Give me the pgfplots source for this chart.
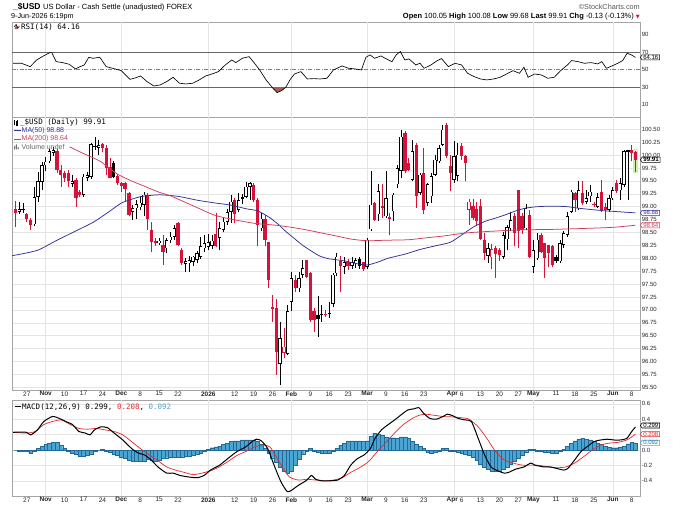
\documentclass[border=0pt]{standalone}
\usepackage{fontspec}
\setmainfont{Liberation Sans}
\newfontfamily\dmono{DejaVu Sans Mono}
\newfontfamily\dejavu{DejaVu Sans}
\usepackage{pgfplots}
\pgfplotsset{compat=1.18}
\usepackage{pgfplotstable}
\usetikzlibrary{shapes.symbols}
\newcommand{\fs}[1]{\fontsize{#1}{#1}\selectfont}

\definecolor{cRed}{RGB}{214,18,58}
\definecolor{cMAa}{RGB}{50,50,150}
\definecolor{cMAb}{RGB}{210,60,90}
\definecolor{cGrid}{RGB}{228,228,228}
\definecolor{cFrame}{RGB}{165,165,165}
\definecolor{cHist}{RGB}{75,165,210}
\definecolor{cHistE}{RGB}{35,105,150}
\definecolor{cSig}{RGB}{230,40,40}
\definecolor{cRSIfill}{RGB}{165,95,95}
\definecolor{cHi}{RGB}{205,240,175}

\pgfplotstableread{
i o h l c r
-3 98.96 99.11 98.61 98.87 1
-2 98.90 99.10 98.86 98.95 0
-1 98.94 99.07 98.87 98.95 0
0 98.85 98.88 98.70 98.76 1
1 98.75 98.78 98.55 98.64 1
2 98.66 99.39 98.62 99.19 0
3 99.19 99.68 99.10 99.49 0
4 99.48 99.87 99.32 99.81 0
5 99.80 99.97 99.70 99.87 0
6 99.88 100.12 99.85 100.07 0
7 100.04 100.16 99.98 100.10 0
8 100.08 100.12 99.66 99.71 1
9 99.71 99.81 99.39 99.61 1
10 99.65 99.70 99.47 99.55 1
11 99.65 99.71 99.39 99.49 1
12 99.44 99.61 99.38 99.50 0
13 99.52 99.55 99.00 99.16 1
14 99.29 99.32 99.18 99.23 1
15 99.23 99.63 99.19 99.58 0
16 99.56 99.68 99.50 99.61 0
17 99.58 100.23 99.54 100.21 0
18 100.17 100.36 100.09 100.16 0
19 100.14 100.29 100.00 100.19 0
20 100.21 100.24 100.05 100.13 1
21 100.13 100.20 99.61 99.74 1
22 99.76 99.94 99.55 99.56 1
23 99.84 99.88 99.55 99.58 0
24 99.60 99.63 99.42 99.45 1
25 99.46 99.48 99.29 99.41 1
26 99.45 99.48 99.10 99.34 1
27 99.26 99.29 98.81 98.84 1
28 98.90 99.03 98.74 98.97 0
29 98.97 99.13 98.77 99.05 0
30 98.99 99.21 98.93 99.08 0
31 99.04 99.29 98.81 99.23 0
32 99.23 99.26 98.55 98.77 1
33 98.54 98.71 98.13 98.32 1
34 98.34 98.39 98.23 98.29 1
35 98.29 98.40 98.26 98.34 0
36 98.26 98.45 97.87 98.13 1
37 98.19 98.40 98.10 98.35 0
38 98.35 98.50 98.30 98.42 0
39 98.42 98.65 98.35 98.58 0
40 98.68 98.71 98.23 98.26 1
41 98.16 98.20 97.87 97.90 1
42 97.89 98.00 97.74 97.95 0
43 97.90 98.05 97.74 97.96 0
44 97.93 98.04 97.85 98.03 0
45 97.97 98.15 97.90 98.10 0
46 98.03 98.42 97.99 98.23 0
47 98.19 98.45 98.13 98.29 0
48 98.22 98.48 98.16 98.31 0
49 98.24 98.45 98.18 98.34 0
50 98.48 98.87 98.21 98.23 1
51 98.39 98.71 98.16 98.58 0
52 98.55 98.78 98.50 98.71 0
53 98.71 98.95 98.65 98.90 0
54 98.90 99.23 98.68 99.10 0
55 99.12 99.16 98.68 98.86 1
56 98.94 99.26 98.90 99.13 0
57 99.19 99.25 99.05 99.14 0
58 99.19 99.48 99.16 99.39 0
59 99.39 99.48 99.13 99.45 0
60 99.42 99.45 99.10 99.13 1
61 99.13 99.16 98.23 98.65 1
62 98.58 98.87 98.52 98.77 0
63 98.77 98.84 98.23 98.36 1
64 98.32 98.32 97.42 97.58 1
65 97.05 97.29 96.77 97.02 1
66 97.03 97.22 95.74 96.19 1
67 95.96 96.77 95.55 96.45 0
68 96.17 96.64 96.06 96.29 1
69 96.15 97.10 96.12 96.97 0
70 97.16 97.74 96.97 97.61 0
71 97.58 97.68 97.35 97.42 1
72 97.42 97.74 97.35 97.61 0
73 97.68 97.97 97.61 97.81 0
74 97.97 97.97 97.61 97.64 1
75 97.71 97.74 96.77 96.80 1
76 96.97 97.03 96.58 96.80 1
77 96.90 97.26 96.48 96.82 0
78 96.90 97.10 96.77 96.93 0
79 96.93 96.99 96.86 96.90 1
80 96.92 97.16 96.84 96.93 0
81 97.12 97.71 97.05 97.68 0
82 97.71 98.10 97.65 98.03 0
83 97.95 98.05 97.35 97.85 1
84 97.84 98.02 97.70 97.93 0
85 97.93 97.98 97.78 97.86 1
86 97.86 98.02 97.80 97.92 0
87 97.90 98.00 97.82 97.96 0
88 97.99 98.02 97.80 97.86 0
89 97.92 97.93 97.76 97.80 1
90 97.84 98.40 97.80 98.36 0
91 98.56 99.69 98.52 99.04 0
92 99.07 99.10 98.72 98.75 1
93 98.85 99.43 98.72 99.30 0
94 99.01 99.43 98.78 98.98 1
95 98.81 99.69 98.78 99.17 0
96 98.77 98.88 98.46 98.80 1
97 98.91 99.27 98.72 99.23 0
98 99.43 99.81 99.36 99.75 0
99 99.69 100.49 99.56 100.36 0
100 100.43 100.46 99.65 99.69 1
101 99.85 99.95 99.70 99.72 1
102 99.52 100.30 99.49 100.07 0
103 100.20 100.23 98.98 99.20 1
104 99.27 99.65 99.23 99.62 0
105 99.65 100.14 98.85 98.94 1
106 99.07 99.46 99.01 99.43 0
107 99.20 99.65 99.07 99.59 0
108 99.62 100.01 99.59 99.91 0
109 99.88 100.20 99.85 100.14 0
110 100.20 100.59 100.17 100.49 0
111 100.59 100.62 99.94 99.98 1
112 99.78 100.01 99.30 99.65 1
113 99.52 100.27 99.46 99.98 0
114 99.60 100.23 99.49 100.01 0
115 100.17 100.23 99.91 99.98 1
116 99.98 100.01 99.49 99.85 1
117 98.94 99.15 98.64 99.10 1
118 99.01 99.15 98.74 98.78 1
119 98.95 99.10 98.62 98.72 1
120 99.01 99.14 98.35 98.38 1
121 98.36 98.49 97.96 98.10 1
122 98.05 98.30 97.90 98.20 0
123 98.02 98.28 97.80 98.18 1
124 98.19 98.23 97.61 98.08 1
125 98.16 98.20 97.95 98.06 1
126 98.03 98.50 97.98 98.45 0
127 98.37 98.65 98.16 98.60 0
128 98.58 98.90 98.52 98.74 0
129 98.82 98.87 98.23 98.49 1
130 99.32 99.32 98.19 98.52 1
131 98.81 98.88 98.48 98.55 1
132 98.58 99.06 98.55 98.97 0
133 98.84 98.94 98.00 98.03 1
134 97.84 98.35 97.71 98.16 0
135 98.00 98.49 97.97 98.36 0
136 98.45 98.49 98.10 98.13 1
137 98.29 98.29 97.61 98.00 1
138 98.26 98.26 97.84 98.10 1
139 98.23 98.26 97.84 97.87 1
140 98.03 98.06 97.90 97.94 0
141 97.94 98.36 97.90 98.29 0
142 98.26 98.52 98.20 98.49 0
143 98.45 98.90 98.42 98.81 0
144 98.90 99.32 98.87 99.29 0
145 99.26 99.29 98.90 99.13 1
146 98.97 99.49 98.94 99.32 0
147 99.26 99.49 99.03 99.07 1
148 99.10 99.32 99.05 99.16 0
149 99.20 99.42 99.10 99.29 0
150 99.05 99.10 99.00 99.03 1
151 99.00 99.26 98.97 99.19 0
152 99.29 99.52 98.90 98.94 1
153 99.00 99.07 98.75 98.94 1
154 98.94 99.23 98.90 99.16 0
155 99.16 99.39 99.13 99.32 0
156 99.45 99.52 99.26 99.30 1
157 99.32 99.55 99.13 99.45 0
158 99.42 100.10 99.38 100.07 0
159 100.09 100.10 99.13 100.06 0
160 100.10 100.20 99.88 100.04 1
161 100.05 100.08 99.68 99.91 1
}\tabC

\pgfplotstableread{
i v
-3.6 57.4
-1.4 57.4
0.9 53.6
2.6 61.2
4.4 65.8
6.1 69.6
6.6 69.6
7.8 59.3
9.5 58.2
11.2 56.3
12.9 50.9
14.1 53.6
15.2 55.5
16.4 64.3
17.5 63.1
19.3 64.3
21 53.6
22.7 51.7
25 49.0
27.3 39.1
28.4 40.3
30.1 42.9
31.8 36.5
33.6 31.5
35.3 32.7
37 36.5
38.7 41.4
40.4 34.6
42.1 33.8
43.9 34.6
45.6 38.4
47.3 42.9
49 45.2
50.7 47.9
52.5 55.5
54.2 61.2
55.3 58.2
57 63.1
58.8 65.0
59.9 59.3
61.6 49.8
63.3 38.4
65.1 28.9
66.2 23.9
67.4 26.2
68.5 30.0
69.6 38.4
70.8 45.2
72.5 47.9
74.2 39.5
75.9 39.9
77.6 39.5
79.4 40.3
81.1 49.8
83.4 54.4
85.1 51.7
86.8 51.0
88.5 49.8
89.7 64.3
90.8 67.0
92 63.1
93.7 65.8
94.8 63.1
96.6 59.3
97.7 67.0
98.8 70.8
100 61.2
101.1 62.4
102.9 55.5
104 57.4
105.1 51.7
106.9 55.5
108.6 60.5
109.7 62.8
111.5 53.6
113.3 57.4
115 55.5
116.6 46.0
118.3 42.2
120 39.5
121.7 38.4
123.5 39.5
125.2 41.4
126.9 45.2
128.6 49.0
130.3 46.0
131.5 52.9
132.6 41.4
134.3 45.2
136.1 44.1
137.8 40.3
139.5 41.4
141.2 49.0
143 55.5
144.1 60.5
145.8 59.3
147.5 57.4
149.2 58.2
151 56.7
152.1 59.3
153.3 51.7
154.8 54.4
156.3 57.4
157.6 60.5
158.8 68.9
159.9 67.0
161 64.16
}\tabR

\pgfplotstableread{
i v
-3.9 98.05
-1 98.09
3 98.16
8 98.35
12.7 98.52
17.6 98.70
21.5 98.89
25 99.07
28 99.15
30.5 99.20
35 99.23
40 99.20
45.5 99.12
50 99.07
54 99.03
58 98.96
61 98.92
64 98.80
66.5 98.66
68.5 98.52
71 98.37
73 98.25
75.5 98.13
77.6 98.04
80 97.99
84 97.95
87 97.90
90 97.87
93 97.93
95.5 98.00
100 98.08
104 98.17
108 98.24
112 98.31
115 98.45
118 98.60
121 98.71
124 98.78
126.5 98.84
129 98.91
131.8 98.97
135 99.00
139 99.01
143 99.00
146 98.97
150 98.94
153 98.92
157 98.90
161 98.88
}\tabMa

\pgfplotstableread{
i v
11.3 100.16
15 100.03
19.4 99.88
24 99.63
28 99.49
31 99.40
35 99.28
38 99.21
43 99.05
49.5 98.84
54 98.76
60 98.68
66 98.64
70 98.60
74 98.55
78 98.49
82 98.43
86 98.37
90 98.34
95 98.35
101 98.36
106 98.40
110 98.43
116 98.49
122 98.52
130 98.55
139 98.56
148 98.58
155 98.60
161 98.64
}\tabMb

\pgfplotstableread{
i v
-3.6 0.23
-0.1 0.23
1.0 0.196
2.8 0.26
4.5 0.37
6.8 0.435
8.6 0.41
10.3 0.37
12.1 0.33
13.8 0.24
15.5 0.22
16.7 0.196
17.9 0.26
19.6 0.30
21.3 0.29
23.1 0.22
25.4 0.13
27.7 0.02
29.5 -0.04
31.2 -0.065
32.9 -0.13
34.7 -0.22
37.0 -0.30
38.7 -0.30
40.5 -0.33
42.8 -0.35
45.1 -0.36
46.9 -0.33
48.6 -0.26
50.9 -0.20
53.2 -0.11
55.6 -0.02
57.9 0.04
59.6 0.11
60.8 0.14
62.0 0.12
63.7 0.02
65.4 -0.196
67.2 -0.41
68.9 -0.54
70.1 -0.52
71.8 -0.46
74.1 -0.39
75.3 -0.33
76.4 -0.38
78.2 -0.40
79.9 -0.40
82.2 -0.39
84.0 -0.33
85.7 -0.196
87.5 -0.11
89.2 -0.065
90.9 0.02
92.1 0.15
93.8 0.26
95.6 0.33
97.3 0.39
99.1 0.46
100.8 0.52
102.5 0.535
103.7 0.55
104.9 0.48
106.6 0.41
108.3 0.40
110.1 0.435
111.2 0.465
112.4 0.45
114.1 0.41
115.9 0.39
117.6 0.37
119.4 0.15
121.1 -0.065
122.8 -0.22
124.6 -0.27
126.3 -0.30
127.5 -0.29
129.2 -0.25
131.5 -0.22
133.3 -0.17
134.4 -0.196
136.8 -0.22
138.5 -0.22
140.2 -0.24
142.0 -0.26
143.1 -0.24
144.9 -0.13
146.6 -0.02
148.4 0.05
150.1 0.11
151.8 0.13
153.6 0.14
155.3 0.13
157.0 0.13
158.7 0.15
160 0.24
161 0.299
}\tabM

\pgfplotstableread{
i v
-3.6 0.23
-0.1 0.22
2.2 0.24
4.5 0.33
6.8 0.37
9.2 0.39
11.5 0.33
13.8 0.28
16.1 0.27
18.4 0.28
20.8 0.26
23.1 0.24
25.4 0.196
27.7 0.11
30.0 0.02
32.4 -0.065
34.7 -0.14
37.0 -0.22
39.3 -0.26
41.6 -0.29
44.0 -0.32
46.3 -0.30
48.6 -0.27
50.9 -0.22
53.2 -0.15
55.6 -0.07
57.9 -0.02
60.2 0.04
62.5 0.065
64.3 0.04
66.0 -0.09
67.8 -0.24
69.5 -0.35
71.8 -0.39
74.1 -0.38
76.4 -0.39
78.8 -0.40
81.1 -0.39
83.4 -0.36
85.7 -0.29
88.0 -0.23
90.4 -0.15
92.7 -0.02
95.0 0.10
97.3 0.22
99.6 0.33
102.0 0.41
103.7 0.45
105.5 0.465
107.8 0.45
110.1 0.435
112.4 0.43
114.7 0.42
117.0 0.40
119.4 0.30
121.7 0.15
124.0 -0.02
126.3 -0.13
128.7 -0.17
131.0 -0.196
133.3 -0.196
135.6 -0.20
137.9 -0.22
140.2 -0.23
142.6 -0.22
144.9 -0.17
147.2 -0.09
149.6 0.0
151.8 0.065
154.2 0.09
156.5 0.10
158.7 0.13
160 0.17
161 0.208
}\tabS

\pgfplotstableread{
i h
-3 0.00
-2 -0.01
-1 -0.01
0 -0.02
1 -0.04
2 -0.01
3 0.02
4 0.05
5 0.07
6 0.09
7 0.10
8 0.10
9 0.06
10 0.02
11 -0.02
12 -0.04
13 -0.06
14 -0.08
15 -0.08
16 -0.07
17 -0.05
18 -0.02
19 0.00
20 0.01
21 -0.01
22 -0.03
23 -0.05
24 -0.07
25 -0.09
26 -0.11
27 -0.13
28 -0.14
29 -0.15
30 -0.15
31 -0.14
32 -0.12
33 -0.13
34 -0.14
35 -0.13
36 -0.11
37 -0.10
38 -0.09
39 -0.09
40 -0.09
41 -0.09
42 -0.08
43 -0.08
44 -0.07
45 -0.05
46 -0.04
47 -0.02
48 0.01
49 0.03
50 0.04
51 0.05
52 0.07
53 0.09
54 0.11
55 0.12
56 0.12
57 0.13
58 0.13
59 0.13
60 0.13
61 0.11
62 0.07
63 0.02
64 -0.04
65 -0.10
66 -0.16
67 -0.22
68 -0.27
69 -0.30
70 -0.27
71 -0.20
72 -0.12
73 -0.06
74 -0.01
75 0.02
76 -0.01
77 -0.03
78 -0.04
79 -0.04
80 -0.04
81 -0.02
82 0.02
83 0.06
84 0.09
85 0.11
86 0.12
87 0.12
88 0.12
89 0.11
90 0.12
91 0.18
92 0.22
93 0.21
94 0.19
95 0.17
96 0.16
97 0.16
98 0.15
99 0.17
100 0.17
101 0.15
102 0.11
103 0.08
104 0.05
105 0.02
106 -0.03
107 -0.04
108 -0.03
109 -0.01
110 0.02
111 0.02
112 -0.01
113 -0.02
114 -0.03
115 -0.04
116 -0.05
117 -0.07
118 -0.09
119 -0.13
120 -0.18
121 -0.22
122 -0.25
123 -0.27
124 -0.28
125 -0.27
126 -0.25
127 -0.22
128 -0.19
129 -0.15
130 -0.11
131 -0.07
132 -0.03
133 0.01
134 0.01
135 -0.01
136 -0.02
137 -0.03
138 -0.03
139 -0.04
140 -0.04
141 -0.02
142 0.01
143 0.05
144 0.09
145 0.12
146 0.14
147 0.15
148 0.14
149 0.13
150 0.11
151 0.09
152 0.07
153 0.05
154 0.04
155 0.03
156 0.03
157 0.04
158 0.05
159 0.08
160 0.10
161 0.092
}\tabH

\pgfplotsset{
  base/.style={
    scale only axis, width=628pt, xmin=-3.915, xmax=162.2,
    clip mode=individual,
    axis line style={cFrame, line width=0.5pt},
    major tick length=0pt,
    yticklabel pos=right,
    yticklabel style={font=\fs{6}, inner sep=1.6pt, text=black!85},
    xticklabel style={font=\fs{6.5}, inner sep=1.3pt, text=black!85},
    extra x ticks={5,25,48,70,90,113,134,155},
    extra x tick labels={},
    extra x tick style={grid=major},
    major grid style={cGrid, line width=0.5pt},
    /pgf/number format/assume math mode=true,
  },
  datelabels/.style={
    xtick={0,5,10,15,20,25,30,35,40,48,55,60,65,70,75,80,85,90,95,100,105,114,115,120,125,130,134,140,145,150,155,160},
    xticklabels={27,\textbf{Nov},10,17,24,\textbf{Dec},8,15,22,\textbf{2026},12,19,26,\textbf{Feb},9,16,23,\textbf{Mar},9,16,23,{\makebox[0pt][r]{\textbf{Apr}}},6,13,20,27,\textbf{May},11,18,25,\textbf{Jun},8},
  },
  cndl/.style 2 args={draw=none, mark=none, forget plot,
    error bars/.cd, y dir=plus, y explicit, error mark=none,
    error bar style={draw=#1, line width=#2, line cap=butt, solid}},
}
\tikzset{
  tag/.style={signal, signal to=west, signal pointer angle=110, draw=#1,
    fill=white, line width=0.55pt, inner xsep=1.2pt, inner ysep=0.4pt,
    font=\fs{6}, anchor=west},
}

\begin{document}
\begin{tikzpicture}[x=1pt,y=1pt]
\fill[white] (0,0) rectangle (680,508);
\useasboundingbox (0,0) rectangle (680,508);

% ---------------- RSI panel
\begin{axis}[base, at={(12pt,391pt)}, anchor=south west, height=95pt,
  ymin=-3.95, ymax=104.6, ytick={10,30,50,70,90}, xtick=\empty]
  \draw[black!60, line width=0.6pt] (axis cs:-3.915,70) -- (axis cs:162.2,70);
  \draw[black!60, line width=0.6pt] (axis cs:-3.915,30) -- (axis cs:162.2,30);
  \draw[black!50, line width=0.6pt, dash pattern=on 4pt off 1.5pt on 1pt off 1.5pt] (axis cs:-3.915,50) -- (axis cs:162.2,50);
  \addplot[fill=cRSIfill, draw=none, mark=none] coordinates {(64.9,30) (65.1,28.9) (66.2,23.9) (67.4,26.2) (68.5,30)} -- cycle;
  \addplot[black, line width=0.65pt, mark=none] table[x=i,y=v]{\tabR};
  \node[tag=black] at (axis cs:162.2,64.16) {64.16};
\end{axis}

% ---------------- Price panel
\begin{axis}[base, datelabels, at={(12pt,118pt)}, anchor=south west, height=273pt,
  ymin=95.448, ymax=100.738, ytick={95.5,95.75,...,100.5}, ymajorgrids,
  yticklabel style={/pgf/number format/.cd, fixed, fixed zerofill, precision=2}]
  % highlight of last bar
  \addplot[restrict expr to domain={\thisrow{i}}{160.5:161.5}, cndl={cHi}{5.5pt}]
    table[x=i, y expr={\thisrow{l}-0.03}, y error plus expr={\thisrow{h}-\thisrow{l}+0.06}]{\tabC};
  % wicks
  \addplot[restrict expr to domain={\thisrow{r}}{-0.5:0.5}, cndl={black}{0.65pt}]
    table[x=i, y=l, y error plus expr={\thisrow{h}-\thisrow{l}}]{\tabC};
  \addplot[restrict expr to domain={\thisrow{r}}{0.5:1.5}, cndl={cRed}{0.65pt}]
    table[x=i, y=l, y error plus expr={\thisrow{h}-\thisrow{l}}]{\tabC};
  % filled bodies
  \addplot[restrict expr to domain={2*\thisrow{r}+(\thisrow{c}>\thisrow{o})}{-0.5:0.5}, cndl={black}{3.3pt}]
    table[x=i, y=c, y error plus expr={max(\thisrow{o}-\thisrow{c},0.016)}]{\tabC};
  \addplot[restrict expr to domain={2*\thisrow{r}+(\thisrow{c}>\thisrow{o})}{1.5:2.5}, cndl={cRed}{3.3pt}]
    table[x=i, y=c, y error plus expr={max(\thisrow{o}-\thisrow{c},0.016)}]{\tabC};
  % hollow bodies
  \addplot[restrict expr to domain={2*\thisrow{r}+(\thisrow{c}>\thisrow{o})}{0.5:1.5}, cndl={black}{3.3pt}]
    table[x=i, y=o, y error plus expr={max(\thisrow{c}-\thisrow{o},0.016)}]{\tabC};
  \addplot[restrict expr to domain={2*\thisrow{r}+(\thisrow{c}>\thisrow{o})}{2.5:3.5}, cndl={cRed}{3.3pt}]
    table[x=i, y=o, y error plus expr={max(\thisrow{c}-\thisrow{o},0.016)}]{\tabC};
  \addplot[restrict expr to domain={\thisrow{c}-\thisrow{o}}{0.035:10}, cndl={white}{2.0pt}]
    table[x=i, y expr={\thisrow{o}+0.013}, y error plus expr={\thisrow{c}-\thisrow{o}-0.026}]{\tabC};
  % moving averages
  \addplot[cMAa, line width=0.75pt, mark=none, smooth, tension=0.4] table[x=i,y=v]{\tabMa};
  \addplot[cMAb, line width=0.75pt, mark=none, smooth, tension=0.4] table[x=i,y=v]{\tabMb};
  \node[tag=black, font=\fs{6.2}\bfseries] at (axis cs:162.2,99.91) {99.91};
  \node[tag=cMAa, text=cMAa] at (axis cs:162.2,98.88) {98.88};
  \node[tag=cMAb, text=cMAb] at (axis cs:162.2,98.64) {98.64};
\end{axis}

% ---------------- MACD panel
\begin{axis}[base, datelabels, at={(12pt,12pt)}, anchor=south west, height=96pt,
  ymin=-0.597, ymax=0.649, ytick={-0.4,-0.2,0,0.2,0.4,0.6},
  yticklabels={-0.4,-0.2,0.0,{},0.4,0.6}, ymajorgrids]
  \addplot[ybar, bar width=3.78pt, bar shift=0pt, fill=cHist, draw=cHistE, line width=0.3pt] table[x=i,y=h]{\tabH};
  \addplot[cSig, line width=0.7pt, mark=none, smooth, tension=0.4] table[x=i,y=v]{\tabS};
  \addplot[black, line width=1.0pt, mark=none, smooth, tension=0.4] table[x=i,y=v]{\tabM};
  \node[tag=black] at (axis cs:162.2,0.318) {0.299};
  \node[tag=cSig, text=cSig] at (axis cs:162.2,0.206) {0.208};
  \node[tag=cHist, text=cHistE] at (axis cs:162.2,0.094) {0.092};
\end{axis}

% ---------------- header
\node[anchor=base west, inner sep=0, font=\fs{8.5}\bfseries] at (13,498) {\_\$USD};
\node[anchor=base west, inner sep=0, font=\fs{7.5}] at (43,498) {US Dollar - Cash Settle (unadjusted) FOREX};
\node[anchor=base west, inner sep=0, font=\fs{7.2}] at (11,489.5) {9-Jun-2026 6:19pm};
\node[anchor=base east, inner sep=0, font=\fs{7.3}, text=black!65] at (640,498) {\textcopyright StockCharts.com};
\node[anchor=base east, inner sep=0, font=\fs{7.5}] at (640,489.5)
  {\textbf{Open} 100.05 \textbf{High} 100.08 \textbf{Low} 99.68 \textbf{Last} 99.91 \textbf{Chg} -0.13 (-0.13\%) {\dejavu\fs{5}\textcolor{cRed}{▼}}};

% ---------------- panel legends
% RSI
\fill[cRSIfill] (14.5,478.8) -- (16.5,484) -- (18.5,478.8) -- cycle;
\draw[black, line width=0.5pt] (14,481) -- (16,483.5) -- (18,480) -- (19.5,482);
\node[anchor=west, inner sep=0, font=\dmono\fs{7.5}] at (21,481.3) {RSI(14) 64.16};
% price
\fill[black] (14,383.5) rectangle (15.3,387);
\draw[black, line width=0.4pt] (14.65,382.5) -- (14.65,388.2);
\draw[black, line width=0.4pt] (16.4,383) rectangle (17.6,386.3);
\draw[black, line width=0.4pt] (17,382.3) -- (17,387.6);
\node[anchor=west, inner sep=0, font=\dmono\fs{7.5}] at (20,385.3) {\_\$USD (Daily) 99.91};
\draw[cMAa, line width=0.9pt] (14,377.3) -- (20.5,377.3);
\node[anchor=west, inner sep=0, font=\fs{7}, text=cMAa] at (21.5,377.3) {MA(50) 98.88};
\draw[cMAb, line width=0.9pt] (14,369) -- (20.5,369);
\node[anchor=west, inner sep=0, font=\fs{7}, text=cMAb] at (21.5,369) {MA(200) 98.64};
\fill[black!55] (14,358.6) rectangle (15,362) (15.8,358.6) rectangle (16.8,363.5) (17.6,358.6) rectangle (18.6,361.2);
\node[anchor=west, inner sep=0, font=\fs{7}, text=black!60] at (21.5,361) {Volume undef};
% MACD
\draw[black, line width=1pt] (15,101.3) -- (20.5,101.3);
\node[anchor=west, inner sep=0, font=\dmono\fs{7.5}] at (22,101.3) {MACD(12,26,9) 0.299, \textcolor{cSig}{0.208}, \textcolor{cHist}{0.092}};
\end{tikzpicture}
\end{document}
